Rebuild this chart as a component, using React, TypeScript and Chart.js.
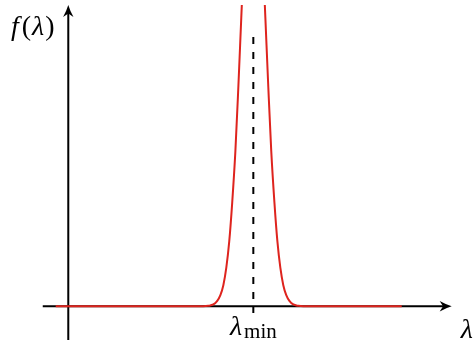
import { useEffect, useRef } from "react";
import { Chart, registerables } from "chart.js";

Chart.register(...registerables);

// Scale ranges (λ in units where λ_min = 1, f in units where the visible top = 1)
const X_MIN = -0.369;
const X_MAX = 2.198;
const Y_MIN = -0.112;
const Y_MAX = 1.0;

const LAMBDA_MIN = 1.0;

// Red curve f(λ)
const curveX = [
  -0.068, 0.73, 0.757, 0.784, 0.805, 0.822, 0.838, 0.854, 0.87, 0.886, 0.903, 0.919, 0.935,
  0.946, 0.968, 1.0, 1.032, 1.054, 1.065, 1.081, 1.097, 1.114, 1.13, 1.146, 1.162, 1.178,
  1.195, 1.216, 1.243, 1.27, 1.802,
];
const curveY = [
  0, 0, 0.0015, 0.006, 0.018, 0.037, 0.07, 0.128, 0.216, 0.345, 0.514, 0.727, 0.959, 1.115,
  1.39, 1.576, 1.39, 1.115, 0.959, 0.727, 0.514, 0.345, 0.216, 0.128, 0.07, 0.037, 0.018,
  0.006, 0.0015, 0, 0,
];

// Dashed marker at λ_min
const dashY = [0.894, -0.022];

// Axis extents (data units)
const xAxisExtent = [-0.138, 2.072];
const yAxisExtent = [Y_MIN, Y_MAX];

const RED = "rgb(222,36,30)";
const SERIF = '"Liberation Serif", "DejaVu Serif", serif';

function arrowHead(ctx: CanvasRenderingContext2D, tx: number, ty: number, dx: number, dy: number) {
  const L = 12;
  const W = 5.2;
  const N = 3.4;
  const px = -dy;
  const py = dx;
  ctx.beginPath();
  ctx.moveTo(tx, ty);
  ctx.quadraticCurveTo(tx - dx * L * 0.5 + px * W * 0.35, ty - dy * L * 0.5 + py * W * 0.35, tx - dx * L + px * W, ty - dy * L + py * W);
  ctx.lineTo(tx - dx * (L - N), ty - dy * (L - N));
  ctx.lineTo(tx - dx * L - px * W, ty - dy * L - py * W);
  ctx.quadraticCurveTo(tx - dx * L * 0.5 - px * W * 0.35, ty - dy * L * 0.5 - py * W * 0.35, tx, ty);
  ctx.closePath();
  ctx.fill();
}

const axesPlugin = {
  id: "mathAxes",
  beforeDatasetsDraw(chart: any) {
    const ctx = chart.ctx as CanvasRenderingContext2D;
    const xs = chart.scales.x;
    const ys = chart.scales.y;
    const y0 = ys.getPixelForValue(0);
    const x0 = xs.getPixelForValue(0);
    const xa = xs.getPixelForValue(xAxisExtent[0]);
    const xb = xs.getPixelForValue(xAxisExtent[1]);
    const ya = ys.getPixelForValue(yAxisExtent[0]);
    const yb = ys.getPixelForValue(yAxisExtent[1]);
    ctx.save();
    ctx.strokeStyle = "#000";
    ctx.fillStyle = "#000";
    ctx.lineWidth = 2;
    ctx.beginPath();
    ctx.moveTo(xa, y0);
    ctx.lineTo(xb - 6, y0);
    ctx.moveTo(x0, ya);
    ctx.lineTo(x0, yb + 6);
    ctx.stroke();
    arrowHead(ctx, xb, y0, 1, 0);
    arrowHead(ctx, x0, yb, 0, -1);
    ctx.restore();
  },
  afterDraw(chart: any) {
    const ctx = chart.ctx as CanvasRenderingContext2D;
    const xs = chart.scales.x;
    const ys = chart.scales.y;
    const y0 = ys.getPixelForValue(0);
    const xb = xs.getPixelForValue(xAxisExtent[1]);
    const xm = xs.getPixelForValue(LAMBDA_MIN);
    ctx.save();
    ctx.fillStyle = "#000";
    ctx.textBaseline = "alphabetic";
    ctx.textAlign = "left";
    const big = 28;
    const italic = `italic ${big}px ${SERIF}`;
    const upright = `${big}px ${SERIF}`;
    // f(λ)
    let x = 11;
    const by = 35;
    const parts: [string, string, number][] = [
      ["f", italic, 3],
      ["(", upright, 1],
      ["λ", italic, 1],
      [")", upright, 0],
    ];
    for (const [t, f, gap] of parts) {
      ctx.font = f;
      ctx.fillText(t, x, by);
      x += ctx.measureText(t).width + gap;
    }
    // λ_min
    ctx.font = italic;
    const wl = ctx.measureText("λ").width;
    const small = `21px ${SERIF}`;
    ctx.font = small;
    const wm = ctx.measureText("min").width;
    const startX = xm - (wl + wm + 2) / 2;
    ctx.font = italic;
    ctx.fillText("λ", startX, y0 + 29);
    ctx.font = small;
    ctx.fillText("min", startX + wl + 2, y0 + 32);
    // λ axis label
    ctx.font = italic;
    ctx.fillText("λ", xb + 9, y0 + 32);
    ctx.restore();
  },
};

export default function App() {
  const ref = useRef<HTMLCanvasElement | null>(null);
  useEffect(() => {
    if (!ref.current) return;
    const chart = new Chart(ref.current, {
      type: "line",
      data: {
        datasets: [
          {
            data: curveX.map((v, i) => ({ x: v, y: curveY[i] })),
            borderColor: RED,
            borderWidth: 2,
            pointRadius: 0,
            cubicInterpolationMode: "monotone",
            fill: false,
          },
          {
            data: dashY.map((v) => ({ x: LAMBDA_MIN, y: v })),
            borderColor: "#000",
            borderWidth: 2,
            borderDash: [7, 8],
            pointRadius: 0,
            fill: false,
          },
        ],
      },
      options: {
        animation: false,
        responsive: false,
        maintainAspectRatio: false,
        layout: { padding: { top: 5, left: 0, right: 0, bottom: 0 } },
        plugins: { legend: { display: false }, tooltip: { enabled: false }, title: { display: false } },
        scales: {
          x: { type: "linear", min: X_MIN, max: X_MAX, display: false },
          y: { type: "linear", min: Y_MIN, max: Y_MAX, display: false },
        },
      },
      plugins: [axesPlugin],
    } as any);
    return () => chart.destroy();
  }, []);
  return (
    <div style={{ position: "fixed", left: 0, top: 0, width: 475, height: 340, background: "#fff" }}>
      <canvas ref={ref} width={475} height={340} style={{ display: "block" }} />
    </div>
  );
}
